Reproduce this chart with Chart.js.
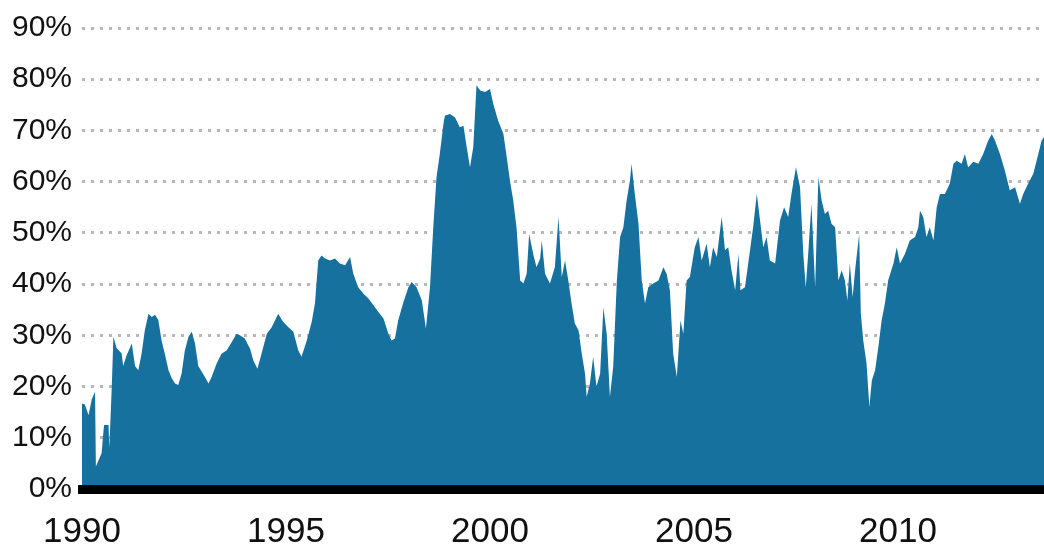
<!DOCTYPE html>
<html>
<head>
<meta charset="utf-8">
<script src="https://cdn.jsdelivr.net/npm/chart.js@4.4.1/dist/chart.umd.min.js"></script>
<style>
html,body{margin:0;padding:0;background:#fff;}
#wrap{width:1044px;height:548px;}
</style>
</head>
<body>
<div id="wrap"><canvas id="c" width="1044" height="548"></canvas></div>
<script>
// Decimal years of the sampled points
const years = [
1990.00,1990.07,1990.16,1990.24,1990.32,1990.34,1990.40,1990.48,1990.54,1990.65,1990.67,1990.73,1990.77,1990.85,1990.97,1991.01,1991.09,1991.22,1991.30,1991.38,1991.46,1991.54,1991.63,1991.71,1991.79,1991.87,1991.95,1992.03,1992.12,1992.20,1992.28,1992.36,1992.44,1992.52,1992.61,1992.69,1992.77,1992.85,
1993.01,1993.10,1993.18,1993.30,1993.42,1993.55,1993.67,1993.79,1993.87,1993.99,1994.12,1994.20,1994.30,1994.40,1994.53,1994.65,1994.81,1994.93,1995.06,1995.18,1995.30,1995.38,1995.51,1995.63,1995.71,1995.79,1995.87,
1995.96,1996.08,1996.20,1996.32,1996.45,1996.57,1996.65,1996.77,1996.90,1997.02,1997.14,1997.26,1997.39,1997.51,1997.59,1997.67,1997.75,1997.88,1998.00,1998.08,1998.20,1998.33,1998.43,1998.53,1998.61,1998.69,1998.77,1998.87,
1998.90,1999.02,1999.14,1999.26,1999.35,1999.43,1999.51,1999.59,1999.67,1999.76,1999.88,2000.00,2000.08,2000.20,2000.33,2000.41,2000.49,2000.57,2000.65,2000.74,2000.82,2000.90,2000.96,2001.06,2001.14,2001.23,2001.27,2001.35,2001.47,2001.59,2001.68,
2001.76,2001.84,2001.92,2002.00,2002.08,2002.17,2002.25,2002.33,2002.37,2002.45,2002.53,2002.61,2002.70,2002.78,2002.86,2002.94,2003.02,2003.11,2003.19,2003.27,2003.35,2003.43,2003.47,2003.55,2003.64,2003.72,2003.80,2003.88,2004.00,2004.13,2004.25,2004.33,2004.41,2004.49,2004.58,2004.67,
2004.74,2004.82,2004.90,2005.02,2005.11,2005.19,2005.31,2005.39,2005.47,2005.56,2005.68,2005.76,2005.84,2005.92,2006.01,2006.09,2006.14,2006.25,2006.33,2006.45,2006.54,2006.62,2006.70,2006.78,2006.86,2006.99,2007.11,2007.21,2007.31,2007.39,2007.50,2007.60,
2007.68,2007.74,2007.80,2007.88,2007.97,2008.05,2008.13,2008.21,2008.29,2008.37,2008.46,2008.54,2008.62,2008.70,2008.76,2008.82,2008.89,2008.95,2009.05,2009.09,2009.15,2009.23,2009.30,2009.36,2009.44,2009.52,2009.60,2009.68,2009.76,2009.89,2009.97,2010.05,2010.17,2010.29,2010.42,2010.50,
2010.54,2010.62,2010.70,2010.78,2010.87,2010.95,2011.03,2011.15,2011.27,2011.36,2011.44,2011.56,2011.64,2011.72,2011.85,2011.97,2012.09,2012.21,2012.30,2012.38,2012.50,2012.62,2012.74,2012.87,2012.99,2013.07,2013.19,2013.32,2013.44,2013.52,2013.58
];
// Share values (%) at those dates
const shares = [
16.7,16.5,14.4,17.5,19.0,4.4,5.5,7.0,12.5,12.5,8.0,20.0,29.7,27.5,26.5,24.0,26.0,28.4,24.0,23.2,26.4,31.0,34.2,33.6,34.0,33.0,29.0,26.4,23.2,21.6,20.6,20.3,22.5,27.0,29.7,30.7,28.4,24.0,
21.9,20.6,21.9,24.5,26.4,27.1,28.7,30.3,30.0,29.4,27.4,25.1,23.5,26.4,30.3,31.6,34.2,32.6,31.6,30.7,27.1,25.8,29.0,32.6,36.2,44.6,45.6,
45.0,44.6,45.0,44.0,43.7,45.3,42.0,39.4,38.1,37.2,35.9,34.6,33.3,30.3,29.0,29.4,32.9,36.5,39.4,40.4,39.4,36.8,31.3,39.4,51.1,60.9,65.4,71.9,
72.9,73.2,72.6,70.6,70.9,66.7,62.8,66.7,78.8,77.8,77.5,78.1,75.2,71.9,69.3,64.8,60.2,56.3,51.1,40.7,40.1,42.0,49.8,45.9,43.3,45.0,48.5,42.0,40.1,43.3,53.1,
41.4,44.6,40.7,36.2,32.3,31.0,26.4,22.5,18.0,20.6,25.8,20.0,22.5,35.5,30.3,18.0,23.8,40.7,49.2,51.1,56.3,60.2,63.5,57.6,51.8,40.7,36.2,39.4,40.1,40.7,43.3,42.0,38.8,26.4,21.9,32.9,
30.3,40.7,41.4,47.2,49.2,44.6,47.9,43.3,47.2,45.3,53.1,46.6,47.2,42.7,38.8,45.9,38.8,39.4,44.0,51.1,57.6,52.4,47.2,49.2,44.6,44.0,52.4,55.0,53.1,57.6,62.8,58.9,
45.9,39.4,45.9,55.7,39.4,60.9,56.3,53.7,54.3,51.8,51.1,40.7,42.7,40.7,36.8,44.0,37.5,42.7,49.8,34.2,29.0,24.5,16.0,21.2,23.2,27.7,32.9,36.2,40.7,44.0,47.2,44.0,45.9,48.5,49.2,51.1,
54.3,53.1,49.2,51.1,48.5,55.0,57.6,57.6,59.6,63.5,64.1,63.5,65.4,62.8,63.9,63.5,65.4,68.0,69.3,68.0,65.4,62.2,58.3,58.9,55.7,57.6,59.6,61.6,65.4,68.0,68.7
];
const yearTicks = [1990, 1995, 2000, 2005, 2010];
const pctTicks = [0, 10, 20, 30, 40, 50, 60, 70, 80, 90];

const points = years.map((x, i) => ({x: x, y: shares[i]}));

new Chart(document.getElementById('c'), {
  type: 'line',
  data: {
    datasets: [{
      data: points,
      borderWidth: 0,
      borderColor: 'rgba(0,0,0,0)',
      backgroundColor: '#16719f',
      fill: 'origin',
      pointRadius: 0,
      tension: 0
    }]
  },
  options: {
    responsive: false,
    animation: false,
    events: [],
    layout: {padding: {top: 27, right: 0, left: 0, bottom: 0}},
    plugins: {legend: {display: false}, tooltip: {enabled: false}},
    scales: {
      x: {
        type: 'linear',
        min: 1990,
        max: 2013.58,
        afterBuildTicks: (s) => { s.ticks = yearTicks.map(v => ({value: v})); },
        afterFit: (s) => { s.height = 59; },
        grid: {display: false, lineWidth: 0},
        border: {display: true, color: '#000', width: 9, z: 1},
        ticks: {
          color: '#111',
          font: {family: 'Liberation Sans, Arial, sans-serif', size: 35},
          padding: 14,
          maxRotation: 0,
          autoSkip: false,
          callback: (v) => String(v)
        }
      },
      y: {
        min: 0,
        max: 90,
        afterBuildTicks: (s) => { s.ticks = pctTicks.map(v => ({value: v})); },
        afterFit: (s) => { s.width = 82; },
        grid: {display: true, color: '#b8b8b8', lineWidth: 3, drawTicks: false},
        border: {display: false, dash: [3, 6]},
        ticks: {
          color: '#111',
          font: {family: 'Liberation Sans, Arial, sans-serif', size: 30},
          padding: 10,
          callback: (v) => v + '%'
        }
      }
    }
  }
});
</script>
</body>
</html>
